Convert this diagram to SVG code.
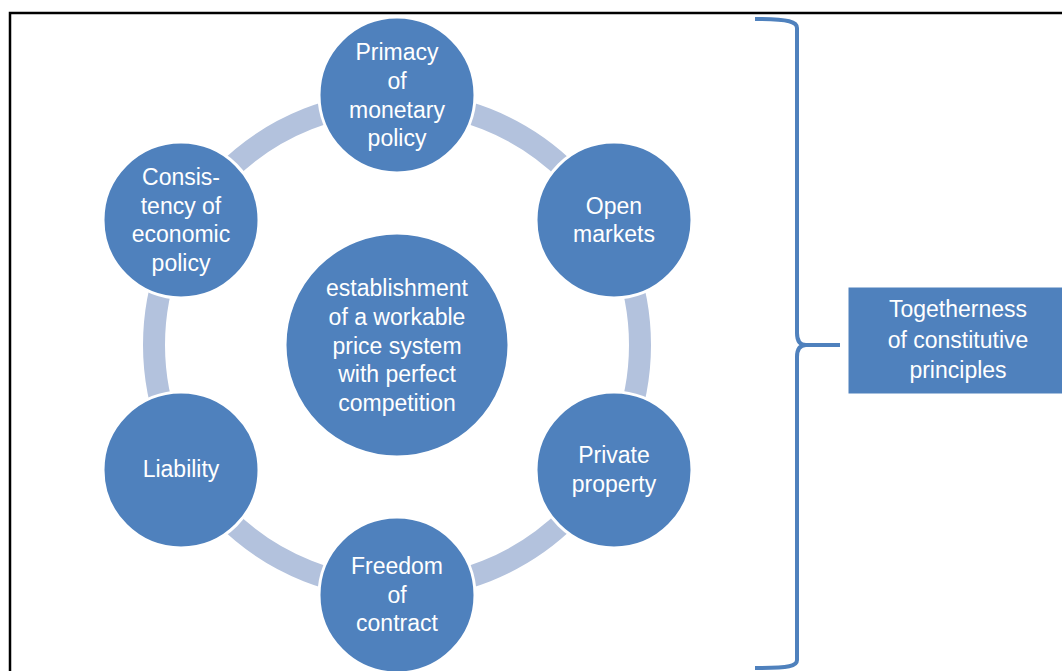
<svg xmlns="http://www.w3.org/2000/svg" width="1062" height="671" viewBox="0 0 1062 671">
<style>
.n{fill:#4F81BD;stroke:#fff;stroke-width:3}
.t{fill:#fff;font-family:"Liberation Sans",Arial,sans-serif;font-size:23px;text-anchor:middle}
</style>
<rect x="0" y="0" width="1062" height="671" fill="#fff"/>
<rect x="10" y="13" width="1100" height="700" fill="none" stroke="#000" stroke-width="2.5"/>
<g id="connectors">
<circle cx="397" cy="345" r="243" fill="none" stroke="#B3C2DD" stroke-width="22"/>
<path d="M755,19 C790,19 797,22 797,28 L797,333 C797,341 800,345 806,345 L840,345 M806,345 C800,345 797,349 797,357 L797,660 C797,666 790,668 755,668" fill="none" stroke="#4F81BD" stroke-width="4"/>
</g>
<g id="center"><circle class="n" cx="397" cy="345" r="112"/>
<text class="t" x="397" y="296">establishment</text><text class="t" x="397" y="325">of a workable</text><text class="t" x="397" y="354">price system</text><text class="t" x="397" y="382">with perfect</text><text class="t" x="397" y="411">competition</text></g>
<g id="primacy"><circle class="n" cx="397" cy="95" r="78"/>
<text class="t" x="397" y="60">Primacy</text><text class="t" x="397" y="89">of</text><text class="t" x="397" y="118">monetary</text><text class="t" x="397" y="146">policy</text></g>
<g id="open"><circle class="n" cx="614" cy="220" r="78"/>
<text class="t" x="614" y="214">Open</text><text class="t" x="614" y="242">markets</text></g>
<g id="private"><circle class="n" cx="614" cy="470" r="78"/>
<text class="t" x="614" y="463">Private</text><text class="t" x="614" y="492">property</text></g>
<g id="freedom"><circle class="n" cx="397" cy="595" r="78"/>
<text class="t" x="397" y="574">Freedom</text><text class="t" x="397" y="603">of</text><text class="t" x="397" y="631">contract</text></g>
<g id="liability"><circle class="n" cx="181" cy="470" r="78"/>
<text class="t" x="181" y="477">Liability</text></g>
<g id="consistency"><circle class="n" cx="181" cy="220" r="78"/>
<text class="t" x="181" y="185">Consis-</text><text class="t" x="181" y="214">tency of</text><text class="t" x="181" y="242">economic</text><text class="t" x="181" y="271">policy</text></g>
<g id="together"><rect x="848" y="287" width="230" height="107" fill="#4F81BD" stroke="#fff" stroke-width="1"/>
<text class="t" x="958" y="317">Togetherness</text><text class="t" x="958" y="348">of constitutive</text><text class="t" x="958" y="378">principles</text></g>
</svg>
